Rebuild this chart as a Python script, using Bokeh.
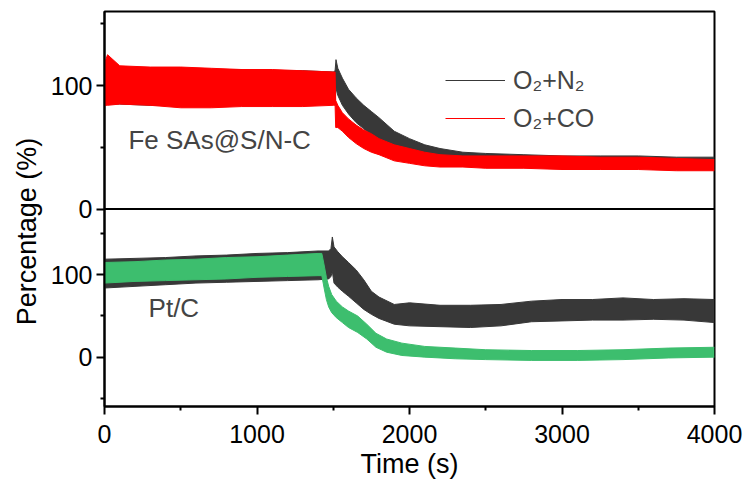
from bokeh.plotting import figure
from bokeh.models import (Range1d, FixedTicker, Span, Label, Legend, LegendItem,
                          ColumnDataSource)
from bokeh.embed import file_html
from bokeh.resources import INLINE

FONT = "Liberation Sans"

# ---------------- data ----------------
# Top panel: Fe SAs@S/N-C  (noise band: lower / upper envelope)
fe_n2_t = [0, 100, 300, 500, 700, 900, 1100, 1300, 1500, 1512, 1518, 1530, 1560, 1600,
           1650, 1700, 1750, 1800, 1900, 2000, 2100, 2200, 2350, 2500, 2750, 3000,
           3250, 3500, 3750, 4000]
fe_n2_hi = [113, 114, 113, 114, 113, 113, 112, 112, 111, 112, 121, 114, 106, 97,
            90, 84, 79, 74, 63, 57, 52, 49, 46, 45, 44, 43, 43, 43, 42, 42]
fe_n2_lo = [85, 85, 84, 84, 84, 85, 85, 85, 86, 86, 98, 92, 84, 77,
            70, 65, 60, 56, 49, 45, 41, 38, 36, 35, 34, 34, 33, 33, 33, 32]

fe_co_t = [0, 20, 100, 300, 500, 700, 900, 1100, 1300, 1500, 1512, 1516, 1530, 1560,
           1600, 1650, 1700, 1750, 1800, 1900, 2000, 2100, 2200, 2350, 2500, 2750,
           3000, 3250, 3500, 3750, 4000]
fe_co_hi = [118, 125, 116, 115, 115, 114, 113, 113, 112, 111, 111, 88, 84, 78,
            73, 68, 64, 61, 57, 52, 49, 46, 44, 43, 43, 43, 43, 42, 42, 41, 40]
fe_co_lo = [84, 84, 85, 84, 82, 82, 83, 83, 83, 84, 84, 66, 66, 63,
            58, 53, 49, 46, 44, 39, 37, 35, 34, 34, 33, 33, 32, 32, 32, 31, 31]

# Bottom panel: Pt/C
pt_n2_t = [0, 200, 400, 600, 800, 1000, 1200, 1400, 1470, 1485, 1494, 1505, 1530,
           1560, 1600, 1650, 1700, 1750, 1800, 1900, 2000, 2200, 2400, 2600, 2800,
           3000, 3200, 3400, 3600, 3800, 4000]
pt_n2_hi = [119, 120, 121, 123, 124, 126, 127, 129, 129, 132, 146, 134, 128,
            122, 115, 106, 94, 80, 73, 64, 66, 63, 63, 64, 68, 70, 70, 72, 70, 71, 70]
pt_n2_lo = [84, 86, 88, 90, 91, 92, 93, 94, 95, 98, 104, 90, 85,
            80, 74, 66, 58, 52, 47, 40, 38, 37, 36, 38, 43, 44, 45, 45, 46, 45, 42]

pt_co_t = [0, 200, 400, 600, 800, 1000, 1200, 1400, 1425, 1440, 1455, 1470, 1490,
           1520, 1560, 1600, 1660, 1720, 1780, 1850, 1950, 2100, 2300, 2500, 2800,
           3100, 3400, 3700, 4000]
pt_co_hi = [115, 116, 118, 119, 121, 122, 124, 126, 126, 112, 97, 86, 76,
            68, 61, 56, 50, 40, 29, 22, 17, 13, 11, 9, 8, 8, 9, 11, 12]
pt_co_lo = [90, 92, 93, 94, 95, 97, 98, 99, 99, 84, 70, 61, 54,
            48, 42, 36, 30, 22, 12, 6, 2, 0, -2, -3, -4, -4, -3, -1, 0]

x_ticks = [0, 1000, 2000, 3000, 4000]
x_minor = [500, 1500, 2500, 3500]
y_ticks = [0, 100]
y_minor = [-50, 50, 150]

# ---------------- figure ----------------
BOT = (-60, 180)      # bottom panel range
TOP = (0, 160)        # top panel range
# primary range: bottom panel in the lower half, same height on top
prim = Range1d(BOT[0], BOT[1] + (BOT[1] - BOT[0]))
top_rng = Range1d(TOP[0] - (TOP[1] - TOP[0]), TOP[1])


def top_to_prim(v):
    f = (v - top_rng.start) / (top_rng.end - top_rng.start)
    return prim.start + f * (prim.end - prim.start)


p = figure(width=748, height=481, x_range=Range1d(0, 4000), y_range=prim,
           output_backend="svg", toolbar_location=None,
           min_border_left=104, min_border_right=34, min_border_top=11,
           min_border_bottom=73, background_fill_color="white")
p.extra_y_ranges = {"top": top_rng}
p.xgrid.visible = False
p.ygrid.visible = False
p.outline_line_color = "black"
p.outline_line_width = 2


def band(t, lo, hi, color, rng):
    src = ColumnDataSource(dict(t=t, lo=lo, hi=hi))
    p.varea(x="t", y1="lo", y2="hi", source=src, fill_color=color, y_range_name=rng)
    r = p.line("t", "hi", source=src, line_color=color, line_width=1, y_range_name=rng)
    p.line("t", "lo", source=src, line_color=color, line_width=1, y_range_name=rng)
    return r


BLACK = "#383838"
RED = "#ff0000"
GREEN = "#3dbe6e"

r_n2 = band(fe_n2_t, fe_n2_lo, fe_n2_hi, BLACK, "top")
r_co = band(fe_co_t, fe_co_lo, fe_co_hi, RED, "top")
band(pt_n2_t, pt_n2_lo, pt_n2_hi, BLACK, "default")
band(pt_co_t, pt_co_lo, pt_co_hi, GREEN, "default")

p.add_layout(Span(location=BOT[1], dimension="width", line_color="black", line_width=2))

# y axis (both panels on one axis)
ya = p.yaxis[0]
top_major = [top_to_prim(v) for v in y_ticks]
top_minor = [top_to_prim(v) for v in (50, 150)]
ya.ticker = FixedTicker(ticks=y_ticks + top_major, minor_ticks=y_minor + top_minor)
ya.major_label_overrides = {pos: str(v) for pos, v in zip(top_major, y_ticks)}
xa = p.xaxis[0]
xa.ticker = FixedTicker(ticks=x_ticks, minor_ticks=x_minor)
for ax in (xa, ya):
    ax.axis_line_width = 2
    ax.major_tick_line_width = 2
    ax.minor_tick_line_width = 2
    ax.major_tick_in = 0
    ax.minor_tick_in = 0
    ax.major_tick_out = 8
    ax.minor_tick_out = 4
    ax.major_label_text_font = FONT
    ax.major_label_text_font_size = "25px"
    ax.major_label_text_color = "black"
    ax.axis_label_text_font = FONT
    ax.axis_label_text_font_size = "27px"
    ax.axis_label_text_font_style = "normal"
    ax.axis_label_text_color = "black"
xa.major_label_standoff = 10
ya.major_label_standoff = 4
xa.axis_label = "Time (s)"
xa.axis_label_standoff = 3
ya.axis_label = "Percentage (%)" + "\u00a0" * 6
ya.axis_label_standoff = 6

# texts in the panels
p.add_layout(Label(x=157, y=55.6, y_range_name="top", text="Fe SAs@S/N-C",
                   text_font=FONT, text_font_size="26px", text_baseline="middle",
                   text_align="left"))
p.add_layout(Label(x=289, y=59.7, text="Pt/C", text_font=FONT, text_font_size="26px",
                   text_baseline="middle", text_align="left"))

legend = Legend(items=[LegendItem(label="O₂+N₂", renderers=[r_n2]),
                       LegendItem(label="O₂+CO", renderers=[r_co])],
                location=(341, 273), border_line_color=None, background_fill_alpha=0,
                label_text_font=FONT, label_text_font_size="25px",
                glyph_width=60, glyph_height=30, label_height=30,
                label_standoff=8, spacing=8, padding=0, margin=0)
p.add_layout(legend)

open("out.html", "w").write(file_html(p, INLINE))
